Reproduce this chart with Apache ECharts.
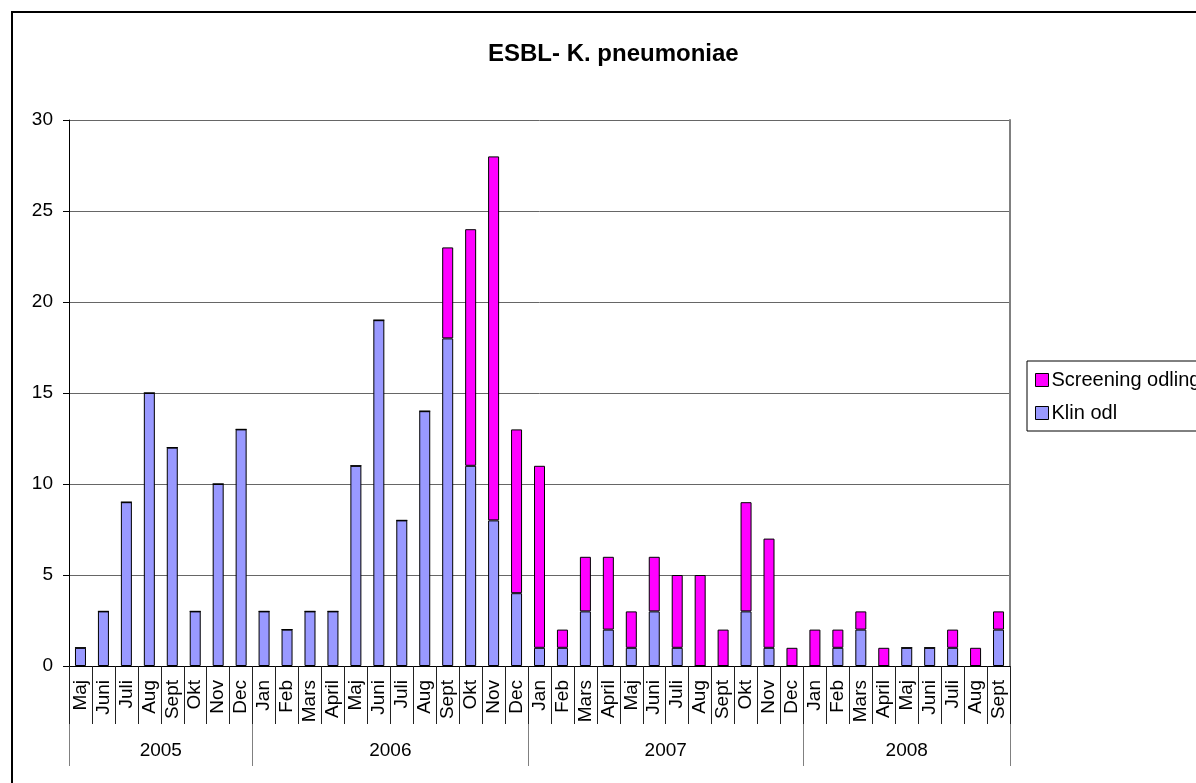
<!DOCTYPE html>
<html>
<head>
<meta charset="utf-8">
<script src="https://cdn.jsdelivr.net/npm/echarts@6/dist/echarts.min.js"></script>
<style>
  html, body { margin: 0; padding: 0; background: #fff; }
  #box { width: 1196px; height: 783px; }
</style>
</head>
<body>
<div id="box"></div>
<script>
// månader per år
const years = ["2005", "2006", "2007", "2008"];
const yearSizes = [8, 12, 12, 9];
const months = [
  "Maj", "Juni", "Juli", "Aug", "Sept", "Okt", "Nov", "Dec",
  "Jan", "Feb", "Mars", "April", "Maj", "Juni", "Juli", "Aug", "Sept", "Okt", "Nov", "Dec",
  "Jan", "Feb", "Mars", "April", "Maj", "Juni", "Juli", "Aug", "Sept", "Okt", "Nov", "Dec",
  "Jan", "Feb", "Mars", "April", "Maj", "Juni", "Juli", "Aug", "Sept"
];
const klinOdl = [
  1, 3, 9, 15, 12, 3, 10, 13,
  3, 2, 3, 3, 11, 19, 8, 14, 18, 11, 8, 4,
  1, 1, 3, 2, 1, 3, 1, 0, 0, 3, 1, 0,
  0, 1, 2, 0, 1, 1, 1, 0, 2
];
const screeningOdling = [
  0, 0, 0, 0, 0, 0, 0, 0,
  0, 0, 0, 0, 0, 0, 0, 0, 5, 13, 20, 9,
  10, 1, 3, 4, 2, 3, 4, 5, 2, 6, 6, 1,
  2, 1, 1, 1, 0, 0, 1, 1, 1
];
const yTicks = [0, 5, 10, 15, 20, 25, 30];

// gränser och mittpunkter för årsraden
let yearBounds = [0];
let yearMids = [];
yearSizes.forEach((n, i) => {
  yearMids.push(yearBounds[i] + n / 2);
  yearBounds.push(yearBounds[i] + n);
});

const font = "Liberation Sans, Arial, sans-serif";
let chart = echarts.init(document.getElementById("box"));

let option = {
  animation: false,
  textStyle: { fontFamily: font },
  graphic: [
    {
      type: "rect",
      shape: { x: 12, y: 12, width: 1400, height: 900 },
      style: { fill: "none", stroke: "#000", lineWidth: 2 },
      silent: true
    }
  ],
  title: {
    text: "ESBL- K. pneumoniae",
    left: 483,
    top: 37,
    textStyle: { fontSize: 24, fontWeight: "bold", color: "#000", fontFamily: font }
  },
  legend: {
    data: ["Screening odling", "Klin odl"],
    orient: "vertical",
    left: 1027,
    top: 361,
    padding: [9, 30, 8, 8],
    itemGap: 13,
    itemWidth: 13,
    itemHeight: 13,
    icon: "rect",
    borderColor: "#000",
    borderWidth: 1,
    itemStyle: { borderColor: "#000", borderWidth: 1 },
    textStyle: { fontSize: 20, color: "#000", fontFamily: font, padding: [0, 0, 0, -2] }
  },
  grid: { left: 69, right: 186, top: 120, bottom: 117 },
  xAxis: [
    {
      // årsrad: avgränsare från axeln ned till botten
      type: "value",
      position: "bottom",
      offset: 0,
      min: 0,
      max: yearBounds[yearBounds.length - 1],
      splitLine: { show: false },
      axisLine: { show: true, onZero: false, lineStyle: { color: "#000", width: 1 } },
      axisTick: {
        show: true,
        length: 100,
        customValues: yearBounds,
        lineStyle: { color: "#808080", width: 1 }
      },
      axisLabel: {
        show: true,
        margin: 75,
        fontSize: 19,
        color: "#000",
        fontFamily: font,
        customValues: yearMids,
        formatter: (v) => years[yearMids.indexOf(v)] || ""
      }
    },
    {
      type: "category",
      position: "bottom",
      offset: 0,
      data: months,
      axisLine: { onZero: false, lineStyle: { color: "#000", width: 1 } },
      axisTick: { show: true, interval: 0, length: 58, lineStyle: { color: "#222", width: 1 } },
      axisLabel: {
        interval: 0,
        rotate: 90,
        margin: 14,
        fontSize: 19,
        color: "#000",
        fontFamily: font
      }
    }
  ],
  yAxis: [
    {
      type: "value",
      min: yTicks[0],
      max: yTicks[yTicks.length - 1],
      interval: 5,
      axisLine: { show: true, lineStyle: { color: "#000" } },
      axisTick: { show: true, length: 6, lineStyle: { color: "#000" } },
      axisLabel: { margin: 16, fontSize: 19, color: "#000", fontFamily: font },
      splitLine: { lineStyle: { color: "#666", width: 1 } }
    },
    {
      type: "value",
      position: "right",
      min: 0,
      max: 30,
      interval: 5,
      axisLine: { show: true, lineStyle: { color: "#808080", width: 2 } },
      axisTick: { show: false },
      axisLabel: { show: false },
      splitLine: { show: false }
    }
  ],
  series: [
    {
      name: "Klin odl",
      type: "bar",
      stack: "total",
      xAxisIndex: 1,
      barWidth: 11,
      data: klinOdl,
      itemStyle: { color: "#9999FF", borderColor: "#000", borderWidth: 1 }
    },
    {
      name: "Screening odling",
      type: "bar",
      stack: "total",
      xAxisIndex: 1,
      barWidth: 11,
      data: screeningOdling,
      itemStyle: { color: "#FF00FF", borderColor: "#000", borderWidth: 1 }
    }
  ]
};

chart.setOption(option);
</script>
</body>
</html>
